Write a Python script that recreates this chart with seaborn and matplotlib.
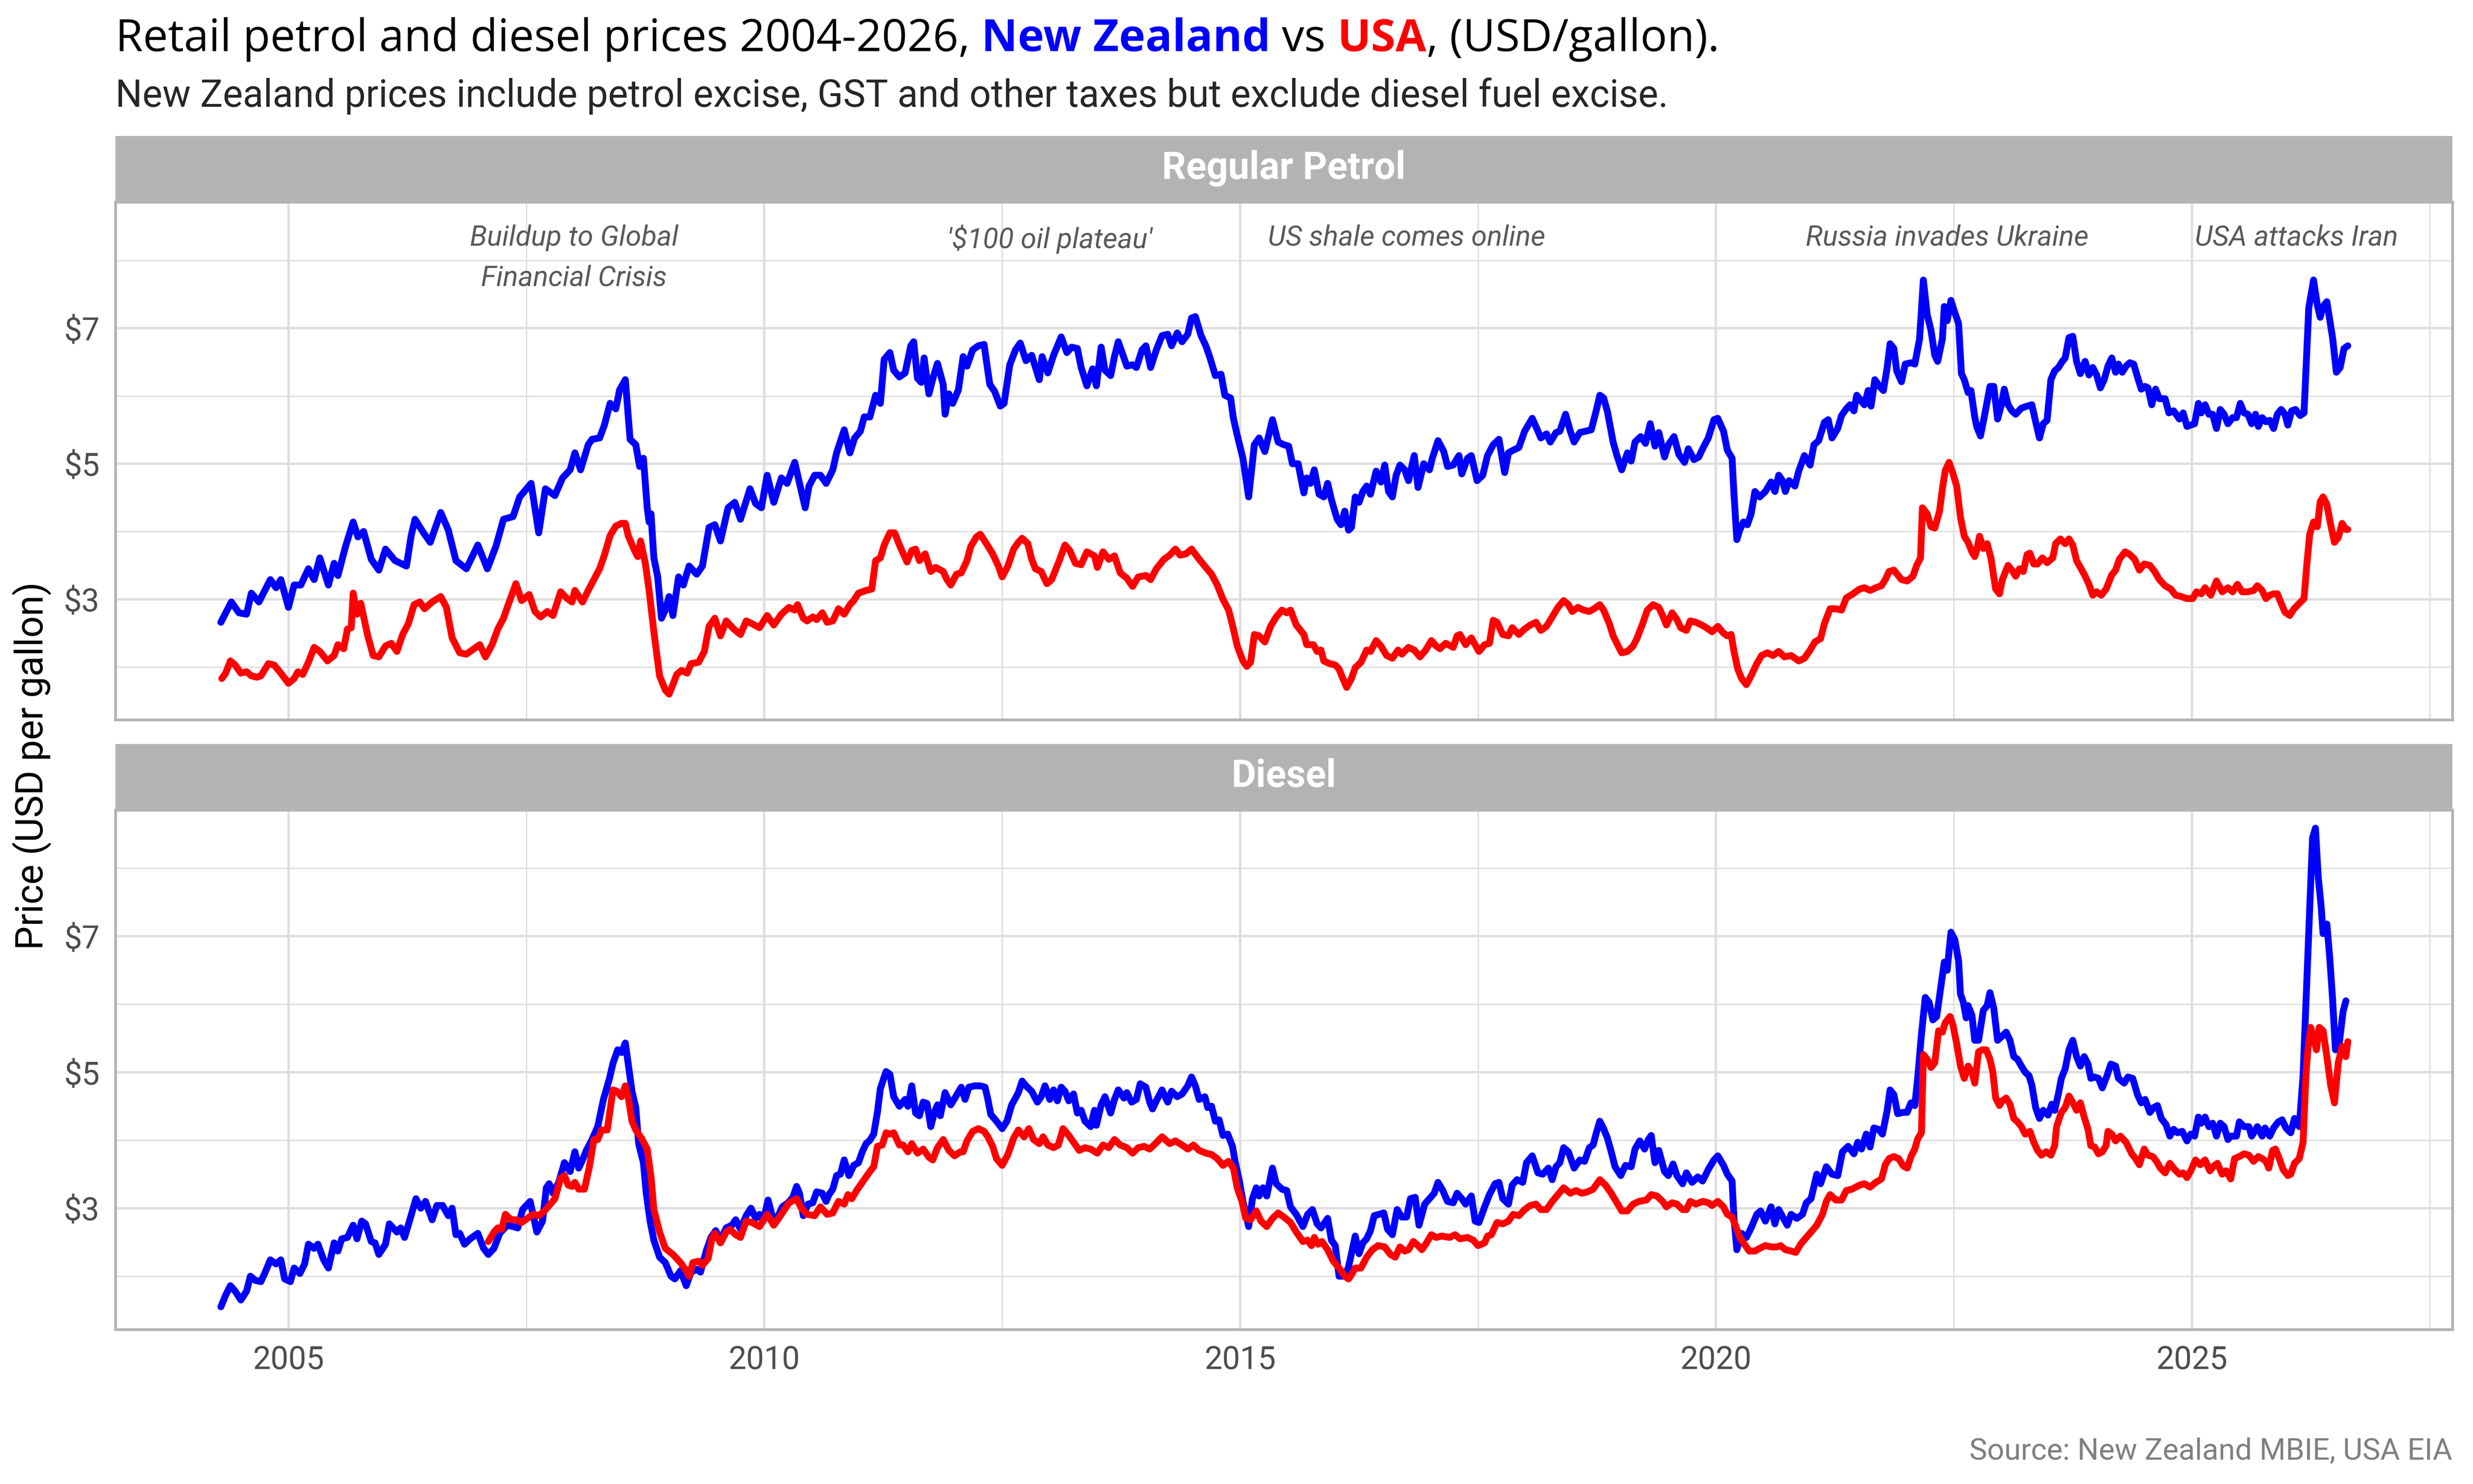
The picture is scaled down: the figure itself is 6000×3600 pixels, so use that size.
import numpy as np
import pandas as pd
import seaborn as sns
import matplotlib.pyplot as plt

# Values (decimal year, USD per gallon)
nz_petrol_year = [
    2004.29, 2004.40, 2004.48, 2004.56, 2004.61, 2004.69, 2004.81, 2004.87, 2004.92, 2005.00,
    2005.06, 2005.13, 2005.21, 2005.27, 2005.33, 2005.42, 2005.48, 2005.52, 2005.60, 2005.68,
    2005.73, 2005.79, 2005.87, 2005.95, 2006.02, 2006.12, 2006.24, 2006.29, 2006.33, 2006.41,
    2006.49, 2006.60, 2006.68, 2006.76, 2006.87, 2006.99, 2007.09, 2007.18, 2007.26, 2007.36,
    2007.43, 2007.55, 2007.63, 2007.70, 2007.80, 2007.88, 2007.96, 2008.01, 2008.07, 2008.15,
    2008.19, 2008.27, 2008.32, 2008.38, 2008.44, 2008.48, 2008.54, 2008.59, 2008.65, 2008.69,
    2008.73, 2008.77, 2008.79, 2008.81, 2008.84, 2008.88, 2008.92, 2008.96, 2009.00, 2009.04,
    2009.10, 2009.15, 2009.21, 2009.29, 2009.35, 2009.42, 2009.48, 2009.54, 2009.62, 2009.69,
    2009.75, 2009.85, 2009.91, 2009.97, 2010.03, 2010.10, 2010.18, 2010.24, 2010.32, 2010.43,
    2010.47, 2010.53, 2010.59, 2010.65, 2010.72, 2010.76, 2010.84, 2010.90, 2010.95, 2011.01,
    2011.05, 2011.11, 2011.17, 2011.22, 2011.26, 2011.32, 2011.36, 2011.42, 2011.48, 2011.54,
    2011.57, 2011.61, 2011.65, 2011.68, 2011.73, 2011.78, 2011.82, 2011.88, 2011.90, 2011.94,
    2011.98, 2012.04, 2012.09, 2012.13, 2012.19, 2012.25, 2012.31, 2012.34, 2012.37, 2012.42,
    2012.48, 2012.52, 2012.58, 2012.64, 2012.69, 2012.75, 2012.81, 2012.89, 2012.92, 2012.98,
    2013.04, 2013.12, 2013.18, 2013.23, 2013.29, 2013.33, 2013.39, 2013.45, 2013.49, 2013.54,
    2013.58, 2013.64, 2013.68, 2013.72, 2013.78, 2013.81, 2013.87, 2013.91, 2013.97, 2014.01,
    2014.06, 2014.12, 2014.18, 2014.24, 2014.28, 2014.34, 2014.39, 2014.45, 2014.49, 2014.53,
    2014.59, 2014.64, 2014.68, 2014.74, 2014.80, 2014.84, 2014.90, 2014.93, 2014.97, 2015.03,
    2015.09, 2015.15, 2015.20, 2015.26, 2015.34, 2015.40, 2015.46, 2015.51, 2015.55, 2015.61,
    2015.67, 2015.70, 2015.74, 2015.78, 2015.83, 2015.88, 2015.92, 2015.96, 2016.02, 2016.06,
    2016.10, 2016.14, 2016.17, 2016.21, 2016.25, 2016.29, 2016.33, 2016.37, 2016.43, 2016.48,
    2016.52, 2016.56, 2016.60, 2016.64, 2016.68, 2016.73, 2016.77, 2016.83, 2016.87, 2016.93,
    2016.99, 2017.02, 2017.08, 2017.14, 2017.18, 2017.24, 2017.30, 2017.33, 2017.39, 2017.43,
    2017.49, 2017.55, 2017.60, 2017.66, 2017.72, 2017.78, 2017.82, 2017.87, 2017.93, 2017.99,
    2018.07, 2018.13, 2018.16, 2018.22, 2018.26, 2018.32, 2018.36, 2018.42, 2018.47, 2018.51,
    2018.57, 2018.63, 2018.69, 2018.74, 2018.78, 2018.82, 2018.86, 2018.92, 2018.96, 2019.01,
    2019.07, 2019.11, 2019.15, 2019.21, 2019.26, 2019.31, 2019.36, 2019.40, 2019.46, 2019.50,
    2019.56, 2019.61, 2019.67, 2019.71, 2019.77, 2019.82, 2019.86, 2019.92, 2019.98, 2020.02,
    2020.08, 2020.12, 2020.17, 2020.19, 2020.22, 2020.25, 2020.29, 2020.33, 2020.37, 2020.41,
    2020.46, 2020.52, 2020.58, 2020.62, 2020.66, 2020.70, 2020.73, 2020.77, 2020.83, 2020.87,
    2020.93, 2020.99, 2021.03, 2021.08, 2021.14, 2021.18, 2021.22, 2021.28, 2021.32, 2021.37,
    2021.41, 2021.45, 2021.48, 2021.52, 2021.56, 2021.60, 2021.63, 2021.67, 2021.72, 2021.76,
    2021.80, 2021.83, 2021.87, 2021.90, 2021.95, 2021.99, 2022.05, 2022.09, 2022.14, 2022.18,
    2022.22, 2022.26, 2022.30, 2022.33, 2022.38, 2022.40, 2022.43, 2022.47, 2022.51, 2022.55,
    2022.58, 2022.61, 2022.65, 2022.68, 2022.72, 2022.74, 2022.78, 2022.82, 2022.88, 2022.92,
    2022.96, 2023.00, 2023.03, 2023.07, 2023.11, 2023.15, 2023.21, 2023.27, 2023.32, 2023.36,
    2023.40, 2023.44, 2023.48, 2023.52, 2023.56, 2023.60, 2023.64, 2023.67, 2023.71, 2023.75,
    2023.79, 2023.83, 2023.88, 2023.92, 2023.96, 2024.00, 2024.04, 2024.08, 2024.12, 2024.16,
    2024.20, 2024.23, 2024.27, 2024.31, 2024.35, 2024.39, 2024.43, 2024.47, 2024.51, 2024.54,
    2024.58, 2024.62, 2024.66, 2024.72, 2024.76, 2024.81, 2024.87, 2024.91, 2024.95, 2024.99,
    2025.03, 2025.07, 2025.10, 2025.14, 2025.18, 2025.22, 2025.26, 2025.30, 2025.34, 2025.38,
    2025.43, 2025.47, 2025.51, 2025.55, 2025.59, 2025.63, 2025.67, 2025.70, 2025.74, 2025.78,
    2025.82, 2025.86, 2025.90, 2025.94, 2025.98, 2026.01, 2026.05, 2026.09, 2026.14, 2026.18,
    2026.20, 2026.23, 2026.28, 2026.32, 2026.35, 2026.38, 2026.42, 2026.48, 2026.52, 2026.56,
    2026.60, 2026.64]
nz_petrol_usd = [
    2.66, 2.96, 2.80, 2.78, 3.09, 2.96, 3.29, 3.17, 3.29, 2.88,
    3.21, 3.21, 3.45, 3.29, 3.61, 3.21, 3.53, 3.35, 3.78, 4.14,
    3.92, 4.00, 3.59, 3.43, 3.74, 3.57, 3.49, 3.94, 4.18, 4.00,
    3.84, 4.28, 4.02, 3.57, 3.45, 3.80, 3.45, 3.78, 4.18, 4.22,
    4.51, 4.71, 3.98, 4.63, 4.53, 4.79, 4.91, 5.16, 4.91, 5.28,
    5.36, 5.38, 5.57, 5.89, 5.81, 6.09, 6.24, 5.36, 5.28, 4.96,
    5.08, 4.35, 4.14, 4.26, 3.61, 3.33, 2.72, 2.84, 3.04, 2.76,
    3.33, 3.21, 3.49, 3.37, 3.49, 4.06, 4.10, 3.86, 4.35, 4.43,
    4.18, 4.63, 4.41, 4.35, 4.83, 4.43, 4.79, 4.71, 5.02, 4.35,
    4.67, 4.83, 4.83, 4.71, 4.91, 5.16, 5.50, 5.16, 5.38, 5.48,
    5.69, 5.69, 6.01, 5.89, 6.54, 6.64, 6.38, 6.28, 6.34, 6.74,
    6.80, 6.26, 6.20, 6.56, 6.03, 6.30, 6.48, 6.17, 5.73, 6.03,
    5.89, 6.09, 6.58, 6.44, 6.68, 6.74, 6.76, 6.46, 6.17, 6.07,
    5.85, 5.89, 6.46, 6.68, 6.78, 6.52, 6.60, 6.24, 6.58, 6.34,
    6.60, 6.87, 6.64, 6.72, 6.70, 6.42, 6.15, 6.40, 6.15, 6.72,
    6.38, 6.30, 6.58, 6.80, 6.56, 6.44, 6.46, 6.42, 6.68, 6.74,
    6.42, 6.68, 6.89, 6.91, 6.74, 6.93, 6.80, 6.91, 7.15, 7.17,
    6.89, 6.74, 6.58, 6.30, 6.32, 6.01, 5.97, 5.67, 5.42, 5.08,
    4.51, 5.28, 5.38, 5.18, 5.65, 5.32, 5.28, 5.26, 5.00, 5.00,
    4.57, 4.79, 4.71, 4.91, 4.55, 4.51, 4.71, 4.47, 4.18, 4.10,
    4.30, 4.02, 4.06, 4.51, 4.43, 4.59, 4.67, 4.55, 4.89, 4.73,
    4.98, 4.59, 4.51, 4.83, 4.98, 4.91, 4.75, 5.12, 4.65, 5.00,
    4.91, 5.08, 5.34, 5.18, 4.96, 4.98, 5.12, 4.85, 5.08, 5.12,
    4.75, 4.83, 5.12, 5.28, 5.36, 4.87, 5.16, 5.20, 5.24, 5.48,
    5.67, 5.48, 5.38, 5.44, 5.32, 5.46, 5.48, 5.73, 5.48, 5.32,
    5.46, 5.48, 5.50, 5.77, 6.01, 5.97, 5.77, 5.32, 5.12, 4.91,
    5.16, 5.04, 5.32, 5.40, 5.30, 5.59, 5.26, 5.46, 5.10, 5.28,
    5.40, 5.14, 5.02, 5.22, 5.06, 5.10, 5.22, 5.38, 5.65, 5.67,
    5.48, 5.20, 5.08, 4.55, 3.88, 4.02, 4.14, 4.10, 4.26, 4.59,
    4.51, 4.59, 4.73, 4.59, 4.83, 4.75, 4.59, 4.75, 4.67, 4.89,
    5.12, 4.98, 5.28, 5.34, 5.61, 5.65, 5.38, 5.52, 5.71, 5.81,
    5.87, 5.78, 6.01, 5.94, 5.87, 6.08, 5.85, 6.24, 6.14, 6.08,
    6.42, 6.77, 6.70, 6.37, 6.21, 6.47, 6.49, 6.47, 6.84, 7.71,
    7.20, 6.97, 6.60, 6.51, 6.84, 7.32, 7.11, 7.41, 7.23, 7.07,
    6.33, 6.24, 6.05, 6.08, 5.69, 5.55, 5.41, 5.69, 6.14, 6.14,
    5.66, 5.87, 6.10, 5.87, 5.78, 5.73, 5.82, 5.85, 5.87, 5.62,
    5.38, 5.59, 5.64, 6.24, 6.37, 6.42, 6.51, 6.56, 6.86, 6.88,
    6.51, 6.33, 6.51, 6.31, 6.42, 6.31, 6.12, 6.24, 6.44, 6.56,
    6.35, 6.47, 6.35, 6.44, 6.49, 6.47, 6.28, 6.10, 6.14, 6.12,
    5.87, 6.10, 5.96, 5.96, 5.75, 5.78, 5.66, 5.75, 5.55, 5.57,
    5.59, 5.89, 5.75, 5.87, 5.73, 5.73, 5.52, 5.80, 5.73, 5.59,
    5.68, 5.68, 5.89, 5.75, 5.73, 5.59, 5.73, 5.55, 5.68, 5.62,
    5.64, 5.52, 5.73, 5.80, 5.73, 5.57, 5.78, 5.80, 5.71, 5.75,
    6.37, 7.30, 7.71, 7.34, 7.16, 7.32, 7.39, 6.86, 6.35, 6.42,
    6.70, 6.74]

usa_petrol_year = [
    2004.30, 2004.34, 2004.39, 2004.44, 2004.50, 2004.56, 2004.61, 2004.67, 2004.71, 2004.79,
    2004.85, 2004.92, 2005.00, 2005.06, 2005.10, 2005.15, 2005.21, 2005.27, 2005.33, 2005.41,
    2005.48, 2005.52, 2005.58, 2005.62, 2005.66, 2005.68, 2005.72, 2005.76, 2005.83, 2005.89,
    2005.95, 2006.02, 2006.08, 2006.14, 2006.20, 2006.26, 2006.32, 2006.38, 2006.43, 2006.51,
    2006.60, 2006.66, 2006.72, 2006.80, 2006.87, 2006.95, 2007.01, 2007.07, 2007.14, 2007.20,
    2007.26, 2007.32, 2007.39, 2007.45, 2007.53, 2007.59, 2007.65, 2007.72, 2007.78, 2007.86,
    2007.92, 2007.98, 2008.01, 2008.09, 2008.15, 2008.21, 2008.27, 2008.32, 2008.38, 2008.44,
    2008.50, 2008.54, 2008.57, 2008.63, 2008.67, 2008.70, 2008.75, 2008.79, 2008.84, 2008.90,
    2008.96, 2009.00, 2009.04, 2009.08, 2009.13, 2009.19, 2009.23, 2009.31, 2009.37, 2009.42,
    2009.48, 2009.54, 2009.60, 2009.68, 2009.75, 2009.81, 2009.87, 2009.95, 2010.03, 2010.10,
    2010.18, 2010.26, 2010.32, 2010.35, 2010.41, 2010.45, 2010.51, 2010.55, 2010.61, 2010.66,
    2010.72, 2010.78, 2010.84, 2010.90, 2010.94, 2010.99, 2011.07, 2011.13, 2011.17, 2011.22,
    2011.26, 2011.32, 2011.37, 2011.42, 2011.50, 2011.55, 2011.59, 2011.63, 2011.69, 2011.75,
    2011.80, 2011.88, 2011.92, 2011.96, 2012.02, 2012.07, 2012.13, 2012.17, 2012.23, 2012.27,
    2012.33, 2012.40, 2012.46, 2012.50, 2012.56, 2012.62, 2012.67, 2012.71, 2012.77, 2012.81,
    2012.85, 2012.91, 2012.97, 2013.02, 2013.10, 2013.16, 2013.21, 2013.27, 2013.33, 2013.39,
    2013.47, 2013.50, 2013.56, 2013.62, 2013.68, 2013.74, 2013.81, 2013.87, 2013.93, 2014.01,
    2014.06, 2014.12, 2014.20, 2014.26, 2014.32, 2014.37, 2014.43, 2014.49, 2014.57, 2014.64,
    2014.70, 2014.76, 2014.82, 2014.88, 2014.93, 2014.97, 2015.03, 2015.07, 2015.11, 2015.15,
    2015.20, 2015.26, 2015.32, 2015.38, 2015.44, 2015.49, 2015.53, 2015.59, 2015.67, 2015.70,
    2015.77, 2015.81, 2015.85, 2015.88, 2015.94, 2016.00, 2016.04, 2016.08, 2016.12, 2016.17,
    2016.21, 2016.27, 2016.33, 2016.37, 2016.43, 2016.48, 2016.54, 2016.60, 2016.66, 2016.70,
    2016.77, 2016.83, 2016.89, 2016.95, 2017.01, 2017.06, 2017.10, 2017.16, 2017.24, 2017.28,
    2017.31, 2017.37, 2017.43, 2017.51, 2017.57, 2017.62, 2017.66, 2017.70, 2017.76, 2017.82,
    2017.86, 2017.93, 2017.99, 2018.05, 2018.11, 2018.16, 2018.22, 2018.28, 2018.34, 2018.40,
    2018.45, 2018.49, 2018.55, 2018.61, 2018.67, 2018.72, 2018.78, 2018.82, 2018.88, 2018.92,
    2018.98, 2019.01, 2019.07, 2019.13, 2019.17, 2019.23, 2019.28, 2019.34, 2019.40, 2019.44,
    2019.48, 2019.54, 2019.59, 2019.63, 2019.69, 2019.73, 2019.79, 2019.85, 2019.90, 2019.96,
    2020.02, 2020.08, 2020.12, 2020.16, 2020.19, 2020.23, 2020.27, 2020.32, 2020.37, 2020.43,
    2020.48, 2020.54, 2020.60, 2020.66, 2020.72, 2020.79, 2020.87, 2020.93, 2020.99, 2021.04,
    2021.10, 2021.14, 2021.20, 2021.26, 2021.32, 2021.37, 2021.43, 2021.51, 2021.56, 2021.62,
    2021.68, 2021.74, 2021.78, 2021.82, 2021.87, 2021.91, 2021.95, 2022.01, 2022.07, 2022.11,
    2022.15, 2022.17, 2022.22, 2022.26, 2022.30, 2022.35, 2022.38, 2022.41, 2022.45, 2022.49,
    2022.53, 2022.57, 2022.61, 2022.65, 2022.69, 2022.72, 2022.74, 2022.77, 2022.81, 2022.85,
    2022.89, 2022.94, 2022.98, 2023.01, 2023.07, 2023.11, 2023.15, 2023.19, 2023.23, 2023.27,
    2023.30, 2023.34, 2023.38, 2023.43, 2023.48, 2023.54, 2023.57, 2023.62, 2023.67, 2023.71,
    2023.75, 2023.79, 2023.83, 2023.88, 2023.92, 2023.96, 2024.00, 2024.05, 2024.10, 2024.16,
    2024.20, 2024.24, 2024.30, 2024.35, 2024.40, 2024.45, 2024.50, 2024.56, 2024.61, 2024.66,
    2024.72, 2024.78, 2024.83, 2024.89, 2024.95, 2025.01, 2025.05, 2025.10, 2025.14, 2025.20,
    2025.26, 2025.32, 2025.38, 2025.43, 2025.48, 2025.53, 2025.59, 2025.65, 2025.69, 2025.74,
    2025.78, 2025.82, 2025.86, 2025.90, 2025.94, 2025.98, 2026.03, 2026.07, 2026.13, 2026.18,
    2026.21, 2026.24, 2026.28, 2026.32, 2026.35, 2026.38, 2026.42, 2026.46, 2026.50, 2026.54,
    2026.58, 2026.62, 2026.64]
usa_petrol_usd = [
    1.83, 1.91, 2.09, 2.03, 1.91, 1.93, 1.87, 1.85, 1.87, 2.05,
    2.03, 1.91, 1.76, 1.83, 1.93, 1.89, 2.07, 2.29, 2.23, 2.09,
    2.17, 2.33, 2.27, 2.56, 2.58, 3.09, 2.78, 2.94, 2.48, 2.17,
    2.15, 2.31, 2.35, 2.23, 2.48, 2.64, 2.92, 2.96, 2.86, 2.96,
    3.04, 2.88, 2.43, 2.21, 2.19, 2.27, 2.33, 2.15, 2.33, 2.56,
    2.72, 2.96, 3.23, 2.98, 3.07, 2.82, 2.74, 2.82, 2.76, 3.11,
    3.02, 2.96, 3.13, 2.96, 3.13, 3.29, 3.45, 3.65, 3.94, 4.08,
    4.12, 4.12, 3.94, 3.74, 3.63, 3.86, 3.53, 3.13, 2.52, 1.87,
    1.66, 1.60, 1.74, 1.89, 1.95, 1.91, 2.05, 2.07, 2.23, 2.60,
    2.72, 2.46, 2.68, 2.56, 2.48, 2.68, 2.64, 2.58, 2.76, 2.62,
    2.78, 2.88, 2.84, 2.92, 2.72, 2.68, 2.74, 2.70, 2.80, 2.66,
    2.68, 2.86, 2.78, 2.92, 2.98, 3.09, 3.13, 3.15, 3.57, 3.61,
    3.80, 3.98, 3.98, 3.80, 3.55, 3.72, 3.74, 3.57, 3.67, 3.41,
    3.47, 3.41, 3.29, 3.21, 3.37, 3.39, 3.57, 3.78, 3.92, 3.96,
    3.83, 3.67, 3.49, 3.33, 3.49, 3.74, 3.84, 3.90, 3.82, 3.59,
    3.45, 3.41, 3.23, 3.29, 3.57, 3.80, 3.72, 3.53, 3.51, 3.70,
    3.64, 3.47, 3.70, 3.59, 3.64, 3.39, 3.31, 3.19, 3.33, 3.35,
    3.29, 3.45, 3.59, 3.65, 3.74, 3.65, 3.67, 3.74, 3.59, 3.47,
    3.37, 3.21, 3.00, 2.84, 2.56, 2.31, 2.09, 2.01, 2.07, 2.48,
    2.46, 2.37, 2.60, 2.74, 2.84, 2.80, 2.84, 2.62, 2.48, 2.33,
    2.33, 2.23, 2.25, 2.09, 2.05, 2.03, 1.97, 1.83, 1.70, 1.83,
    1.99, 2.07, 2.25, 2.23, 2.39, 2.31, 2.17, 2.13, 2.25, 2.19,
    2.29, 2.25, 2.15, 2.25, 2.39, 2.31, 2.27, 2.35, 2.29, 2.46,
    2.48, 2.33, 2.43, 2.23, 2.33, 2.35, 2.69, 2.66, 2.48, 2.46,
    2.58, 2.48, 2.56, 2.62, 2.66, 2.54, 2.60, 2.74, 2.88, 2.98,
    2.92, 2.82, 2.88, 2.84, 2.82, 2.86, 2.92, 2.84, 2.64, 2.46,
    2.29, 2.21, 2.23, 2.31, 2.42, 2.64, 2.84, 2.92, 2.88, 2.76,
    2.62, 2.80, 2.70, 2.58, 2.54, 2.68, 2.66, 2.62, 2.58, 2.52,
    2.60, 2.50, 2.46, 2.48, 2.23, 1.97, 1.83, 1.74, 1.87, 2.05,
    2.17, 2.21, 2.17, 2.23, 2.15, 2.17, 2.09, 2.13, 2.25, 2.37,
    2.42, 2.64, 2.86, 2.86, 2.84, 3.02, 3.07, 3.15, 3.17, 3.13,
    3.17, 3.20, 3.29, 3.41, 3.43, 3.36, 3.29, 3.27, 3.34, 3.50,
    3.61, 4.35, 4.26, 4.07, 4.05, 4.30, 4.63, 4.90, 5.02, 4.86,
    4.67, 4.21, 3.93, 3.84, 3.70, 3.63, 3.72, 3.93, 3.75, 3.82,
    3.61, 3.15, 3.08, 3.29, 3.50, 3.43, 3.34, 3.45, 3.41, 3.66,
    3.68, 3.52, 3.52, 3.61, 3.54, 3.61, 3.82, 3.89, 3.82, 3.89,
    3.80, 3.57, 3.47, 3.34, 3.22, 3.06, 3.11, 3.06, 3.15, 3.36,
    3.43, 3.59, 3.70, 3.66, 3.59, 3.43, 3.52, 3.50, 3.41, 3.29,
    3.20, 3.15, 3.06, 3.04, 3.01, 3.01, 3.11, 3.08, 3.17, 3.06,
    3.27, 3.11, 3.17, 3.11, 3.22, 3.11, 3.11, 3.13, 3.20, 3.13,
    3.01, 3.06, 3.08, 3.08, 2.94, 2.81, 2.76, 2.85, 2.94, 3.01,
    3.52, 3.96, 4.14, 4.07, 4.44, 4.51, 4.40, 4.10, 3.84, 3.91,
    4.12, 4.03, 4.03]

nz_diesel_year = [
    2004.29, 2004.34, 2004.39, 2004.44, 2004.50, 2004.56, 2004.60, 2004.65, 2004.71, 2004.75,
    2004.81, 2004.87, 2004.92, 2004.96, 2005.02, 2005.06, 2005.12, 2005.17, 2005.21, 2005.27,
    2005.31, 2005.37, 2005.42, 2005.48, 2005.52, 2005.56, 2005.62, 2005.68, 2005.72, 2005.77,
    2005.81, 2005.87, 2005.91, 2005.95, 2006.02, 2006.06, 2006.14, 2006.18, 2006.22, 2006.28,
    2006.34, 2006.39, 2006.44, 2006.51, 2006.56, 2006.62, 2006.68, 2006.72, 2006.76, 2006.80,
    2006.85, 2006.91, 2006.99, 2007.05, 2007.10, 2007.16, 2007.22, 2007.30, 2007.36, 2007.41,
    2007.46, 2007.54, 2007.61, 2007.67, 2007.71, 2007.74, 2007.78, 2007.84, 2007.90, 2007.96,
    2008.01, 2008.05, 2008.09, 2008.13, 2008.19, 2008.25, 2008.31, 2008.37, 2008.41, 2008.46,
    2008.50, 2008.54, 2008.57, 2008.61, 2008.65, 2008.68, 2008.73, 2008.76, 2008.80, 2008.84,
    2008.90, 2008.96, 2009.02, 2009.06, 2009.12, 2009.18, 2009.23, 2009.29, 2009.33, 2009.39,
    2009.44, 2009.49, 2009.54, 2009.60, 2009.66, 2009.70, 2009.75, 2009.81, 2009.86, 2009.91,
    2009.95, 2009.99, 2010.04, 2010.09, 2010.14, 2010.19, 2010.25, 2010.30, 2010.34, 2010.37,
    2010.41, 2010.46, 2010.51, 2010.55, 2010.61, 2010.65, 2010.68, 2010.72, 2010.76, 2010.80,
    2010.84, 2010.89, 2010.94, 2010.99, 2011.03, 2011.07, 2011.11, 2011.15, 2011.19, 2011.22,
    2011.28, 2011.32, 2011.36, 2011.42, 2011.48, 2011.51, 2011.55, 2011.59, 2011.63, 2011.67,
    2011.71, 2011.75, 2011.79, 2011.82, 2011.85, 2011.90, 2011.96, 2012.02, 2012.07, 2012.11,
    2012.15, 2012.21, 2012.27, 2012.32, 2012.35, 2012.38, 2012.44, 2012.50, 2012.55, 2012.60,
    2012.64, 2012.67, 2012.71, 2012.75, 2012.81, 2012.87, 2012.91, 2012.95, 2013.00, 2013.04,
    2013.08, 2013.12, 2013.16, 2013.20, 2013.25, 2013.29, 2013.33, 2013.37, 2013.43, 2013.47,
    2013.49, 2013.54, 2013.58, 2013.64, 2013.68, 2013.72, 2013.78, 2013.81, 2013.86, 2013.91,
    2013.95, 2014.01, 2014.05, 2014.08, 2014.12, 2014.18, 2014.24, 2014.28, 2014.34, 2014.39,
    2014.45, 2014.49, 2014.53, 2014.57, 2014.63, 2014.66, 2014.70, 2014.74, 2014.78, 2014.82,
    2014.87, 2014.92, 2014.95, 2014.99, 2015.03, 2015.09, 2015.13, 2015.17, 2015.20, 2015.24,
    2015.28, 2015.34, 2015.38, 2015.44, 2015.49, 2015.53, 2015.59, 2015.66, 2015.71, 2015.76,
    2015.81, 2015.85, 2015.89, 2015.92, 2015.96, 2016.00, 2016.04, 2016.10, 2016.14, 2016.17,
    2016.21, 2016.25, 2016.29, 2016.33, 2016.37, 2016.41, 2016.46, 2016.51, 2016.55, 2016.60,
    2016.65, 2016.70, 2016.75, 2016.79, 2016.84, 2016.88, 2016.94, 2016.99, 2017.04, 2017.08,
    2017.13, 2017.18, 2017.24, 2017.28, 2017.33, 2017.37, 2017.43, 2017.47, 2017.51, 2017.57,
    2017.62, 2017.68, 2017.72, 2017.76, 2017.82, 2017.86, 2017.91, 2017.97, 2018.01, 2018.07,
    2018.13, 2018.18, 2018.24, 2018.28, 2018.32, 2018.36, 2018.40, 2018.45, 2018.51, 2018.57,
    2018.62, 2018.67, 2018.71, 2018.74, 2018.78, 2018.82, 2018.86, 2018.90, 2018.94, 2019.00,
    2019.05, 2019.11, 2019.15, 2019.20, 2019.25, 2019.29, 2019.32, 2019.36, 2019.40, 2019.46,
    2019.50, 2019.55, 2019.59, 2019.65, 2019.69, 2019.75, 2019.81, 2019.86, 2019.92, 2019.98,
    2020.02, 2020.08, 2020.12, 2020.17, 2020.19, 2020.22, 2020.27, 2020.32, 2020.37, 2020.43,
    2020.47, 2020.52, 2020.58, 2020.62, 2020.66, 2020.71, 2020.75, 2020.79, 2020.85, 2020.91,
    2020.95, 2021.00, 2021.06, 2021.10, 2021.16, 2021.22, 2021.28, 2021.33, 2021.39, 2021.45,
    2021.49, 2021.53, 2021.58, 2021.62, 2021.66, 2021.71, 2021.75, 2021.80, 2021.83, 2021.87,
    2021.91, 2021.97, 2022.01, 2022.05, 2022.09, 2022.12, 2022.16, 2022.20, 2022.24, 2022.28,
    2022.32, 2022.36, 2022.40, 2022.43, 2022.47, 2022.51, 2022.55, 2022.57, 2022.60, 2022.63,
    2022.65, 2022.69, 2022.72, 2022.76, 2022.81, 2022.85, 2022.88, 2022.92, 2022.96, 2023.00,
    2023.05, 2023.09, 2023.13, 2023.17, 2023.21, 2023.25, 2023.29, 2023.32, 2023.36, 2023.40,
    2023.44, 2023.49, 2023.53, 2023.56, 2023.60, 2023.63, 2023.67, 2023.71, 2023.75, 2023.79,
    2023.83, 2023.87, 2023.91, 2023.94, 2023.98, 2024.02, 2024.06, 2024.11, 2024.15, 2024.20,
    2024.23, 2024.29, 2024.33, 2024.38, 2024.43, 2024.47, 2024.51, 2024.56, 2024.60, 2024.64,
    2024.68, 2024.73, 2024.77, 2024.81, 2024.85, 2024.90, 2024.95, 2024.99, 2025.03, 2025.07,
    2025.10, 2025.14, 2025.18, 2025.22, 2025.26, 2025.30, 2025.34, 2025.38, 2025.41, 2025.47,
    2025.50, 2025.55, 2025.60, 2025.63, 2025.69, 2025.74, 2025.77, 2025.82, 2025.86, 2025.91,
    2025.95, 2025.99, 2026.04, 2026.08, 2026.13, 2026.17, 2026.21, 2026.25, 2026.27, 2026.30,
    2026.33, 2026.36, 2026.38, 2026.42, 2026.45, 2026.48, 2026.51, 2026.55, 2026.59, 2026.62]
nz_diesel_usd = [
    1.55, 1.72, 1.86, 1.78, 1.65, 1.78, 2.00, 1.94, 1.92, 2.04,
    2.24, 2.18, 2.24, 1.96, 1.92, 2.12, 2.04, 2.18, 2.47, 2.41,
    2.47, 2.24, 2.12, 2.49, 2.37, 2.55, 2.57, 2.75, 2.55, 2.81,
    2.77, 2.51, 2.49, 2.32, 2.47, 2.77, 2.65, 2.71, 2.57, 2.85,
    3.14, 3.00, 3.10, 2.83, 3.04, 3.04, 2.89, 3.00, 2.61, 2.63,
    2.47, 2.55, 2.63, 2.41, 2.32, 2.41, 2.63, 2.75, 2.73, 2.71,
    2.98, 3.10, 2.65, 2.81, 3.30, 3.36, 3.22, 3.38, 3.67, 3.54,
    3.83, 3.59, 3.71, 3.85, 4.01, 4.20, 4.60, 4.89, 5.13, 5.33,
    5.29, 5.43, 5.13, 4.72, 4.48, 3.95, 3.67, 3.22, 2.81, 2.53,
    2.28, 2.20, 2.00, 1.96, 2.08, 1.86, 2.06, 2.10, 2.06, 2.37,
    2.57, 2.67, 2.53, 2.71, 2.75, 2.83, 2.69, 2.89, 3.00, 2.85,
    2.91, 2.81, 3.12, 2.85, 2.87, 3.02, 3.08, 3.16, 3.32, 3.22,
    2.89, 3.06, 3.08, 3.24, 3.22, 3.10, 3.20, 3.28, 3.48, 3.50,
    3.71, 3.48, 3.63, 3.67, 3.83, 3.95, 4.00, 4.09, 4.42, 4.76,
    5.01, 4.97, 4.64, 4.50, 4.60, 4.50, 4.80, 4.40, 4.36, 4.56,
    4.54, 4.20, 4.42, 4.52, 4.36, 4.70, 4.52, 4.66, 4.78, 4.60,
    4.78, 4.80, 4.80, 4.78, 4.60, 4.38, 4.28, 4.17, 4.28, 4.52,
    4.62, 4.70, 4.87, 4.80, 4.72, 4.56, 4.64, 4.80, 4.60, 4.74,
    4.58, 4.78, 4.72, 4.58, 4.68, 4.40, 4.44, 4.28, 4.20, 4.44,
    4.22, 4.52, 4.64, 4.40, 4.60, 4.74, 4.62, 4.70, 4.56, 4.60,
    4.83, 4.78, 4.56, 4.46, 4.58, 4.74, 4.56, 4.72, 4.64, 4.68,
    4.80, 4.93, 4.80, 4.60, 4.64, 4.48, 4.50, 4.28, 4.30, 4.07,
    4.09, 3.91, 3.67, 3.42, 3.10, 2.73, 3.14, 3.30, 3.18, 3.30,
    3.18, 3.59, 3.36, 3.28, 3.26, 3.02, 2.91, 2.73, 2.91, 2.98,
    2.77, 2.71, 2.79, 2.85, 2.53, 2.45, 2.00, 2.00, 2.14, 2.33,
    2.59, 2.33, 2.49, 2.55, 2.67, 2.89, 2.91, 2.93, 2.69, 2.61,
    2.98, 2.87, 2.87, 3.14, 3.16, 2.75, 3.06, 3.14, 3.22, 3.38,
    3.26, 3.10, 3.08, 3.22, 3.14, 3.06, 3.18, 2.81, 2.79, 3.02,
    3.20, 3.36, 3.38, 3.14, 3.06, 3.34, 3.42, 3.38, 3.67, 3.77,
    3.52, 3.50, 3.59, 3.42, 3.61, 3.67, 3.89, 3.83, 3.59, 3.71,
    3.69, 3.89, 3.93, 4.09, 4.28, 4.17, 4.03, 3.83, 3.61, 3.48,
    3.63, 3.61, 3.87, 3.99, 3.87, 4.01, 4.07, 3.67, 3.85, 3.54,
    3.48, 3.65, 3.48, 3.36, 3.52, 3.38, 3.46, 3.40, 3.57, 3.71,
    3.77, 3.63, 3.50, 3.40, 2.85, 2.39, 2.63, 2.57, 2.71, 2.91,
    2.96, 2.81, 3.02, 2.77, 2.98, 2.85, 2.75, 2.91, 2.85, 2.91,
    3.08, 3.14, 3.50, 3.36, 3.61, 3.50, 3.48, 3.83, 3.91, 3.80,
    3.97, 3.87, 4.09, 3.90, 4.18, 4.16, 4.09, 4.44, 4.74, 4.67,
    4.39, 4.41, 4.41, 4.55, 4.51, 4.91, 5.56, 6.10, 6.03, 5.77,
    5.82, 6.22, 6.62, 6.50, 7.06, 6.95, 6.64, 6.15, 6.03, 5.80,
    5.98, 5.84, 5.47, 5.47, 5.91, 5.98, 6.17, 5.94, 5.47, 5.52,
    5.59, 5.47, 5.23, 5.19, 5.09, 5.00, 4.95, 4.81, 4.48, 4.32,
    4.44, 4.37, 4.53, 4.44, 4.69, 4.91, 5.05, 5.33, 5.47, 5.23,
    5.09, 5.23, 5.12, 4.91, 4.93, 4.91, 4.77, 4.95, 5.12, 5.09,
    4.91, 4.84, 4.93, 4.91, 4.67, 4.55, 4.60, 4.41, 4.48, 4.51,
    4.32, 4.23, 4.06, 4.16, 4.11, 4.13, 3.99, 4.09, 4.06, 4.34,
    4.25, 4.34, 4.20, 4.25, 4.06, 4.25, 4.20, 4.01, 4.06, 4.06,
    4.27, 4.20, 4.20, 4.06, 4.20, 4.06, 4.18, 4.06, 4.18, 4.27,
    4.30, 4.18, 4.11, 4.32, 4.20, 4.95, 6.36, 7.77, 8.45, 8.59,
    7.86, 7.44, 7.04, 7.18, 6.69, 6.08, 5.33, 5.42, 5.89, 6.05]

usa_diesel_year = [
    2007.10, 2007.16, 2007.20, 2007.24, 2007.28, 2007.34, 2007.40, 2007.45, 2007.51, 2007.57,
    2007.63, 2007.69, 2007.74, 2007.80, 2007.86, 2007.90, 2007.94, 2007.98, 2008.01, 2008.05,
    2008.11, 2008.16, 2008.21, 2008.25, 2008.29, 2008.35, 2008.41, 2008.45, 2008.50, 2008.54,
    2008.57, 2008.61, 2008.65, 2008.71, 2008.77, 2008.81, 2008.84, 2008.90, 2008.96, 2009.04,
    2009.12, 2009.18, 2009.21, 2009.25, 2009.31, 2009.35, 2009.41, 2009.45, 2009.48, 2009.54,
    2009.60, 2009.64, 2009.70, 2009.75, 2009.81, 2009.87, 2009.95, 2010.03, 2010.10, 2010.18,
    2010.26, 2010.34, 2010.39, 2010.45, 2010.53, 2010.59, 2010.66, 2010.72, 2010.78, 2010.84,
    2010.88, 2010.92, 2010.97, 2011.01, 2011.05, 2011.11, 2011.15, 2011.19, 2011.24, 2011.28,
    2011.32, 2011.36, 2011.42, 2011.46, 2011.51, 2011.55, 2011.61, 2011.67, 2011.73, 2011.77,
    2011.82, 2011.88, 2011.94, 2012.00, 2012.06, 2012.09, 2012.13, 2012.19, 2012.25, 2012.31,
    2012.35, 2012.40, 2012.44, 2012.50, 2012.56, 2012.62, 2012.67, 2012.73, 2012.78, 2012.83,
    2012.89, 2012.93, 2012.98, 2013.04, 2013.09, 2013.14, 2013.20, 2013.25, 2013.31, 2013.37,
    2013.43, 2013.50, 2013.56, 2013.62, 2013.68, 2013.74, 2013.81, 2013.87, 2013.93, 2013.99,
    2014.05, 2014.11, 2014.18, 2014.26, 2014.32, 2014.39, 2014.45, 2014.51, 2014.57, 2014.64,
    2014.70, 2014.76, 2014.82, 2014.88, 2014.93, 2014.97, 2015.02, 2015.06, 2015.11, 2015.17,
    2015.22, 2015.28, 2015.34, 2015.40, 2015.46, 2015.53, 2015.59, 2015.66, 2015.71, 2015.75,
    2015.78, 2015.82, 2015.86, 2015.92, 2015.98, 2016.04, 2016.10, 2016.14, 2016.17, 2016.21,
    2016.27, 2016.33, 2016.39, 2016.45, 2016.52, 2016.58, 2016.63, 2016.68, 2016.73, 2016.77,
    2016.82, 2016.87, 2016.91, 2016.95, 2017.01, 2017.06, 2017.12, 2017.20, 2017.26, 2017.31,
    2017.39, 2017.45, 2017.50, 2017.57, 2017.60, 2017.64, 2017.70, 2017.76, 2017.82, 2017.87,
    2017.93, 2017.99, 2018.05, 2018.11, 2018.16, 2018.22, 2018.28, 2018.34, 2018.40, 2018.47,
    2018.53, 2018.59, 2018.65, 2018.71, 2018.74, 2018.78, 2018.84, 2018.90, 2018.96, 2019.01,
    2019.07, 2019.13, 2019.19, 2019.27, 2019.32, 2019.38, 2019.44, 2019.48, 2019.54, 2019.59,
    2019.65, 2019.69, 2019.73, 2019.79, 2019.86, 2019.92, 2019.96, 2020.02, 2020.08, 2020.12,
    2020.17, 2020.21, 2020.25, 2020.31, 2020.35, 2020.41, 2020.46, 2020.52, 2020.58, 2020.64,
    2020.68, 2020.73, 2020.79, 2020.84, 2020.89, 2020.95, 2021.00, 2021.06, 2021.12, 2021.16,
    2021.20, 2021.26, 2021.32, 2021.37, 2021.43, 2021.51, 2021.56, 2021.62, 2021.68, 2021.74,
    2021.78, 2021.82, 2021.87, 2021.92, 2021.97, 2022.01, 2022.05, 2022.09, 2022.12, 2022.16,
    2022.18, 2022.22, 2022.26, 2022.30, 2022.34, 2022.38, 2022.41, 2022.46, 2022.49, 2022.53,
    2022.57, 2022.61, 2022.65, 2022.69, 2022.72, 2022.76, 2022.80, 2022.84, 2022.88, 2022.91,
    2022.94, 2022.98, 2023.01, 2023.05, 2023.09, 2023.13, 2023.17, 2023.21, 2023.25, 2023.30,
    2023.34, 2023.38, 2023.42, 2023.47, 2023.52, 2023.56, 2023.58, 2023.63, 2023.67, 2023.71,
    2023.76, 2023.79, 2023.83, 2023.87, 2023.91, 2023.94, 2023.98, 2024.02, 2024.06, 2024.10,
    2024.12, 2024.16, 2024.20, 2024.25, 2024.31, 2024.37, 2024.41, 2024.45, 2024.50, 2024.54,
    2024.59, 2024.63, 2024.67, 2024.72, 2024.77, 2024.82, 2024.87, 2024.91, 2024.95, 2024.99,
    2025.04, 2025.09, 2025.14, 2025.19, 2025.23, 2025.27, 2025.32, 2025.36, 2025.41, 2025.45,
    2025.50, 2025.55, 2025.60, 2025.65, 2025.70, 2025.74, 2025.78, 2025.81, 2025.85, 2025.88,
    2025.92, 2025.96, 2026.01, 2026.04, 2026.08, 2026.13, 2026.17, 2026.20, 2026.22, 2026.25,
    2026.28, 2026.31, 2026.34, 2026.38, 2026.42, 2026.46, 2026.50, 2026.54, 2026.58, 2026.62,
    2026.64]
usa_diesel_usd = [
    2.51, 2.65, 2.71, 2.69, 2.91, 2.83, 2.83, 2.79, 2.85, 2.91,
    2.89, 2.96, 3.04, 3.14, 3.44, 3.48, 3.34, 3.32, 3.38, 3.28,
    3.28, 3.59, 4.01, 4.01, 4.15, 4.15, 4.74, 4.72, 4.64, 4.80,
    4.64, 4.28, 4.15, 4.03, 3.87, 3.46, 2.98, 2.65, 2.41, 2.32,
    2.20, 2.08, 2.00, 2.20, 2.22, 2.16, 2.26, 2.55, 2.63, 2.49,
    2.65, 2.69, 2.61, 2.57, 2.81, 2.79, 2.73, 2.91, 2.75, 2.91,
    3.08, 3.14, 3.00, 2.91, 2.89, 3.02, 2.91, 2.93, 3.10, 3.06,
    3.20, 3.14, 3.26, 3.34, 3.42, 3.54, 3.61, 3.91, 3.93, 4.11,
    4.09, 4.11, 3.93, 3.93, 3.83, 3.95, 3.81, 3.87, 3.75, 3.71,
    3.89, 4.01, 3.85, 3.77, 3.83, 3.83, 3.99, 4.13, 4.17, 4.13,
    4.05, 3.91, 3.73, 3.63, 3.79, 4.03, 4.15, 4.05, 4.17, 4.01,
    3.95, 4.05, 3.93, 3.89, 3.93, 4.17, 4.07, 3.97, 3.85, 3.89,
    3.87, 3.81, 3.93, 3.89, 4.01, 3.93, 3.89, 3.81, 3.89, 3.91,
    3.87, 3.95, 4.05, 3.95, 3.99, 3.93, 3.87, 3.93, 3.85, 3.81,
    3.79, 3.73, 3.63, 3.69, 3.59, 3.30, 3.10, 2.85, 2.83, 2.96,
    2.81, 2.73, 2.85, 2.93, 2.87, 2.79, 2.65, 2.51, 2.53, 2.45,
    2.57, 2.47, 2.51, 2.39, 2.22, 2.12, 2.00, 1.96, 2.02, 2.12,
    2.12, 2.28, 2.39, 2.45, 2.43, 2.32, 2.28, 2.43, 2.37, 2.39,
    2.51, 2.45, 2.39, 2.47, 2.61, 2.57, 2.59, 2.57, 2.61, 2.55,
    2.57, 2.53, 2.45, 2.49, 2.59, 2.61, 2.79, 2.77, 2.81, 2.91,
    2.89, 2.98, 3.04, 3.06, 2.98, 2.98, 3.10, 3.20, 3.30, 3.22,
    3.26, 3.22, 3.24, 3.28, 3.34, 3.42, 3.34, 3.22, 3.08, 2.96,
    2.96, 3.06, 3.10, 3.12, 3.20, 3.18, 3.10, 3.02, 3.08, 3.06,
    2.98, 2.98, 3.10, 3.06, 3.10, 3.08, 3.04, 3.10, 3.02, 2.91,
    2.87, 2.73, 2.57, 2.45, 2.37, 2.37, 2.41, 2.45, 2.43, 2.43,
    2.45, 2.39, 2.37, 2.35, 2.47, 2.57, 2.65, 2.75, 2.91, 3.10,
    3.20, 3.12, 3.12, 3.26, 3.28, 3.34, 3.36, 3.31, 3.38, 3.43,
    3.64, 3.73, 3.76, 3.73, 3.62, 3.59, 3.76, 3.87, 4.02, 4.11,
    5.26, 5.19, 5.07, 5.14, 5.61, 5.59, 5.73, 5.82, 5.70, 5.42,
    5.09, 4.91, 5.09, 5.00, 4.84, 5.30, 5.33, 5.33, 5.19, 5.00,
    4.62, 4.51, 4.58, 4.62, 4.53, 4.32, 4.27, 4.20, 4.09, 4.13,
    3.97, 3.85, 3.78, 3.83, 3.78, 3.92, 4.20, 4.41, 4.48, 4.65,
    4.53, 4.44, 4.55, 4.34, 4.16, 3.92, 3.90, 3.80, 3.83, 3.92,
    4.13, 4.09, 3.99, 4.06, 3.97, 3.80, 3.73, 3.64, 3.87, 3.78,
    3.76, 3.69, 3.59, 3.52, 3.66, 3.57, 3.50, 3.52, 3.45, 3.55,
    3.71, 3.64, 3.71, 3.55, 3.62, 3.66, 3.50, 3.55, 3.43, 3.73,
    3.76, 3.80, 3.78, 3.69, 3.76, 3.73, 3.69, 3.59, 3.85, 3.87,
    3.73, 3.57, 3.48, 3.50, 3.66, 3.73, 3.97, 4.95, 5.33, 5.66,
    5.52, 5.33, 5.66, 5.61, 5.23, 4.81, 4.55, 5.14, 5.38, 5.23,
    5.45]

countries = ["New Zealand", "USA"]
country_colours = {"New Zealand": "#0000FF", "USA": "#FF0000"}
fuels = ["Regular Petrol", "Diesel"]

event_labels = ["Buildup to Global\nFinancial Crisis", "'$100 oil plateau'",
                "US shale comes online", "Russia invades Ukraine", "USA attacks Iran"]
event_years = [2008.0, 2013.0, 2016.75, 2022.43, 2026.1]

# Long table for seaborn
frames = []
for fuel, country, yrs, vals in [
    ("Regular Petrol", "New Zealand", nz_petrol_year, nz_petrol_usd),
    ("Regular Petrol", "USA", usa_petrol_year, usa_petrol_usd),
    ("Diesel", "New Zealand", nz_diesel_year, nz_diesel_usd),
    ("Diesel", "USA", usa_diesel_year, usa_diesel_usd),
]:
    frames.append(pd.DataFrame({"year": yrs, "price": vals, "country": country, "fuel": fuel}))
df = pd.concat(frames, ignore_index=True)

sns.set_style("white")
plt.rcParams["font.family"] = ["Roboto", "DejaVu Sans"]

fig = plt.figure(figsize=(20, 12), dpi=300)

# panel geometry (figure fractions)
left, width = 0.0466, 0.9451
panel_boxes = [(0.5149, 0.3489), (0.1043, 0.3500)]
strip_h = 0.0436

grid_col = "#DEDEDE"
border_col = "#B3B3B3"
tick_col = "#4D4D4D"

axes = []
for i, fuel in enumerate(fuels):
    bottom, height = panel_boxes[i]
    ax = fig.add_axes([left, bottom, width, height])
    axes.append(ax)
    sub = df[df["fuel"] == fuel]
    sns.lineplot(data=sub, x="year", y="price", hue="country", hue_order=countries,
                 palette=country_colours, estimator=None, linewidth=4.0,
                 legend=False, ax=ax)

    ax.set_xticks([2005, 2010, 2015, 2020, 2025])
    ax.set_xticks([2007.5, 2012.5, 2017.5, 2022.5, 2027.5], minor=True)
    ax.set_yticks([3, 5, 7])
    ax.set_yticks([2, 4, 6, 8], minor=True)
    ax.set_yticklabels(["$3", "$5", "$7"])
    ax.set_xlim(2003.18, 2027.74)
    ax.set_ylim(1.22, 8.86)
    ax.grid(which="major", color=grid_col, linewidth=1.4)
    ax.grid(which="minor", color=grid_col, linewidth=0.8)
    ax.set_axisbelow(True)
    for s in ax.spines.values():
        s.set_color(border_col)
        s.set_linewidth(1.6)
    ax.tick_params(which="major", length=5, width=1.2, color=border_col,
                   labelsize=18.5, labelcolor=tick_col, pad=4)
    ax.tick_params(which="minor", length=0)
    ax.set_xlabel("")
    ax.set_ylabel("")

    # facet strip
    strip = fig.add_axes([left, bottom + height + 0.0008, width, strip_h])
    strip.set_facecolor(border_col)
    strip.set_xticks([])
    strip.set_yticks([])
    for s in strip.spines.values():
        s.set_visible(False)
    strip.text(0.5, 0.5, fuel, ha="center", va="center", color="white",
               fontsize=22, fontweight="bold", transform=strip.transAxes)

axes[0].tick_params(axis="x", length=0, labelbottom=False)

# event annotations in top panel
for lab, yr in zip(event_labels, event_years):
    axes[0].text(yr, 8.53, lab, ha="center", va="top", fontsize=16.5, style="italic",
                 color="#595959", linespacing=1.65)

fig.text(0.0128, 0.484, "Price (USD per gallon)", rotation=90, ha="center", va="center",
         fontsize=22, color="black")

# title with coloured country names
title_parts = [("Retail petrol and diesel prices 2004-2026, ", "black", "normal"),
               ("New Zealand", "#0000FF", "bold"),
               (" vs ", "black", "normal"),
               ("USA", "#FF0000", "bold"),
               (", (USD/gallon).", "black", "normal")]
renderer = fig.canvas.get_renderer()
x = 0.0466
for txt, col, wt in title_parts:
    t = fig.text(x, 0.9655, txt, color=col, fontweight=wt, fontsize=26,
                 family=["Open Sans", "DejaVu Sans"], va="baseline", ha="left")
    bb = t.get_window_extent(renderer=renderer)
    x += bb.width / fig.bbox.width

fig.text(0.0466, 0.928, "New Zealand prices include petrol excise, GST and other taxes "
         "but exclude diesel fuel excise.", fontsize=22, va="baseline", ha="left")

fig.text(0.9917, 0.0165, "Source: New Zealand MBIE, USA EIA", fontsize=17.5, color="#808080",
         ha="right", va="baseline")

fig.savefig("out.png", dpi=300)
